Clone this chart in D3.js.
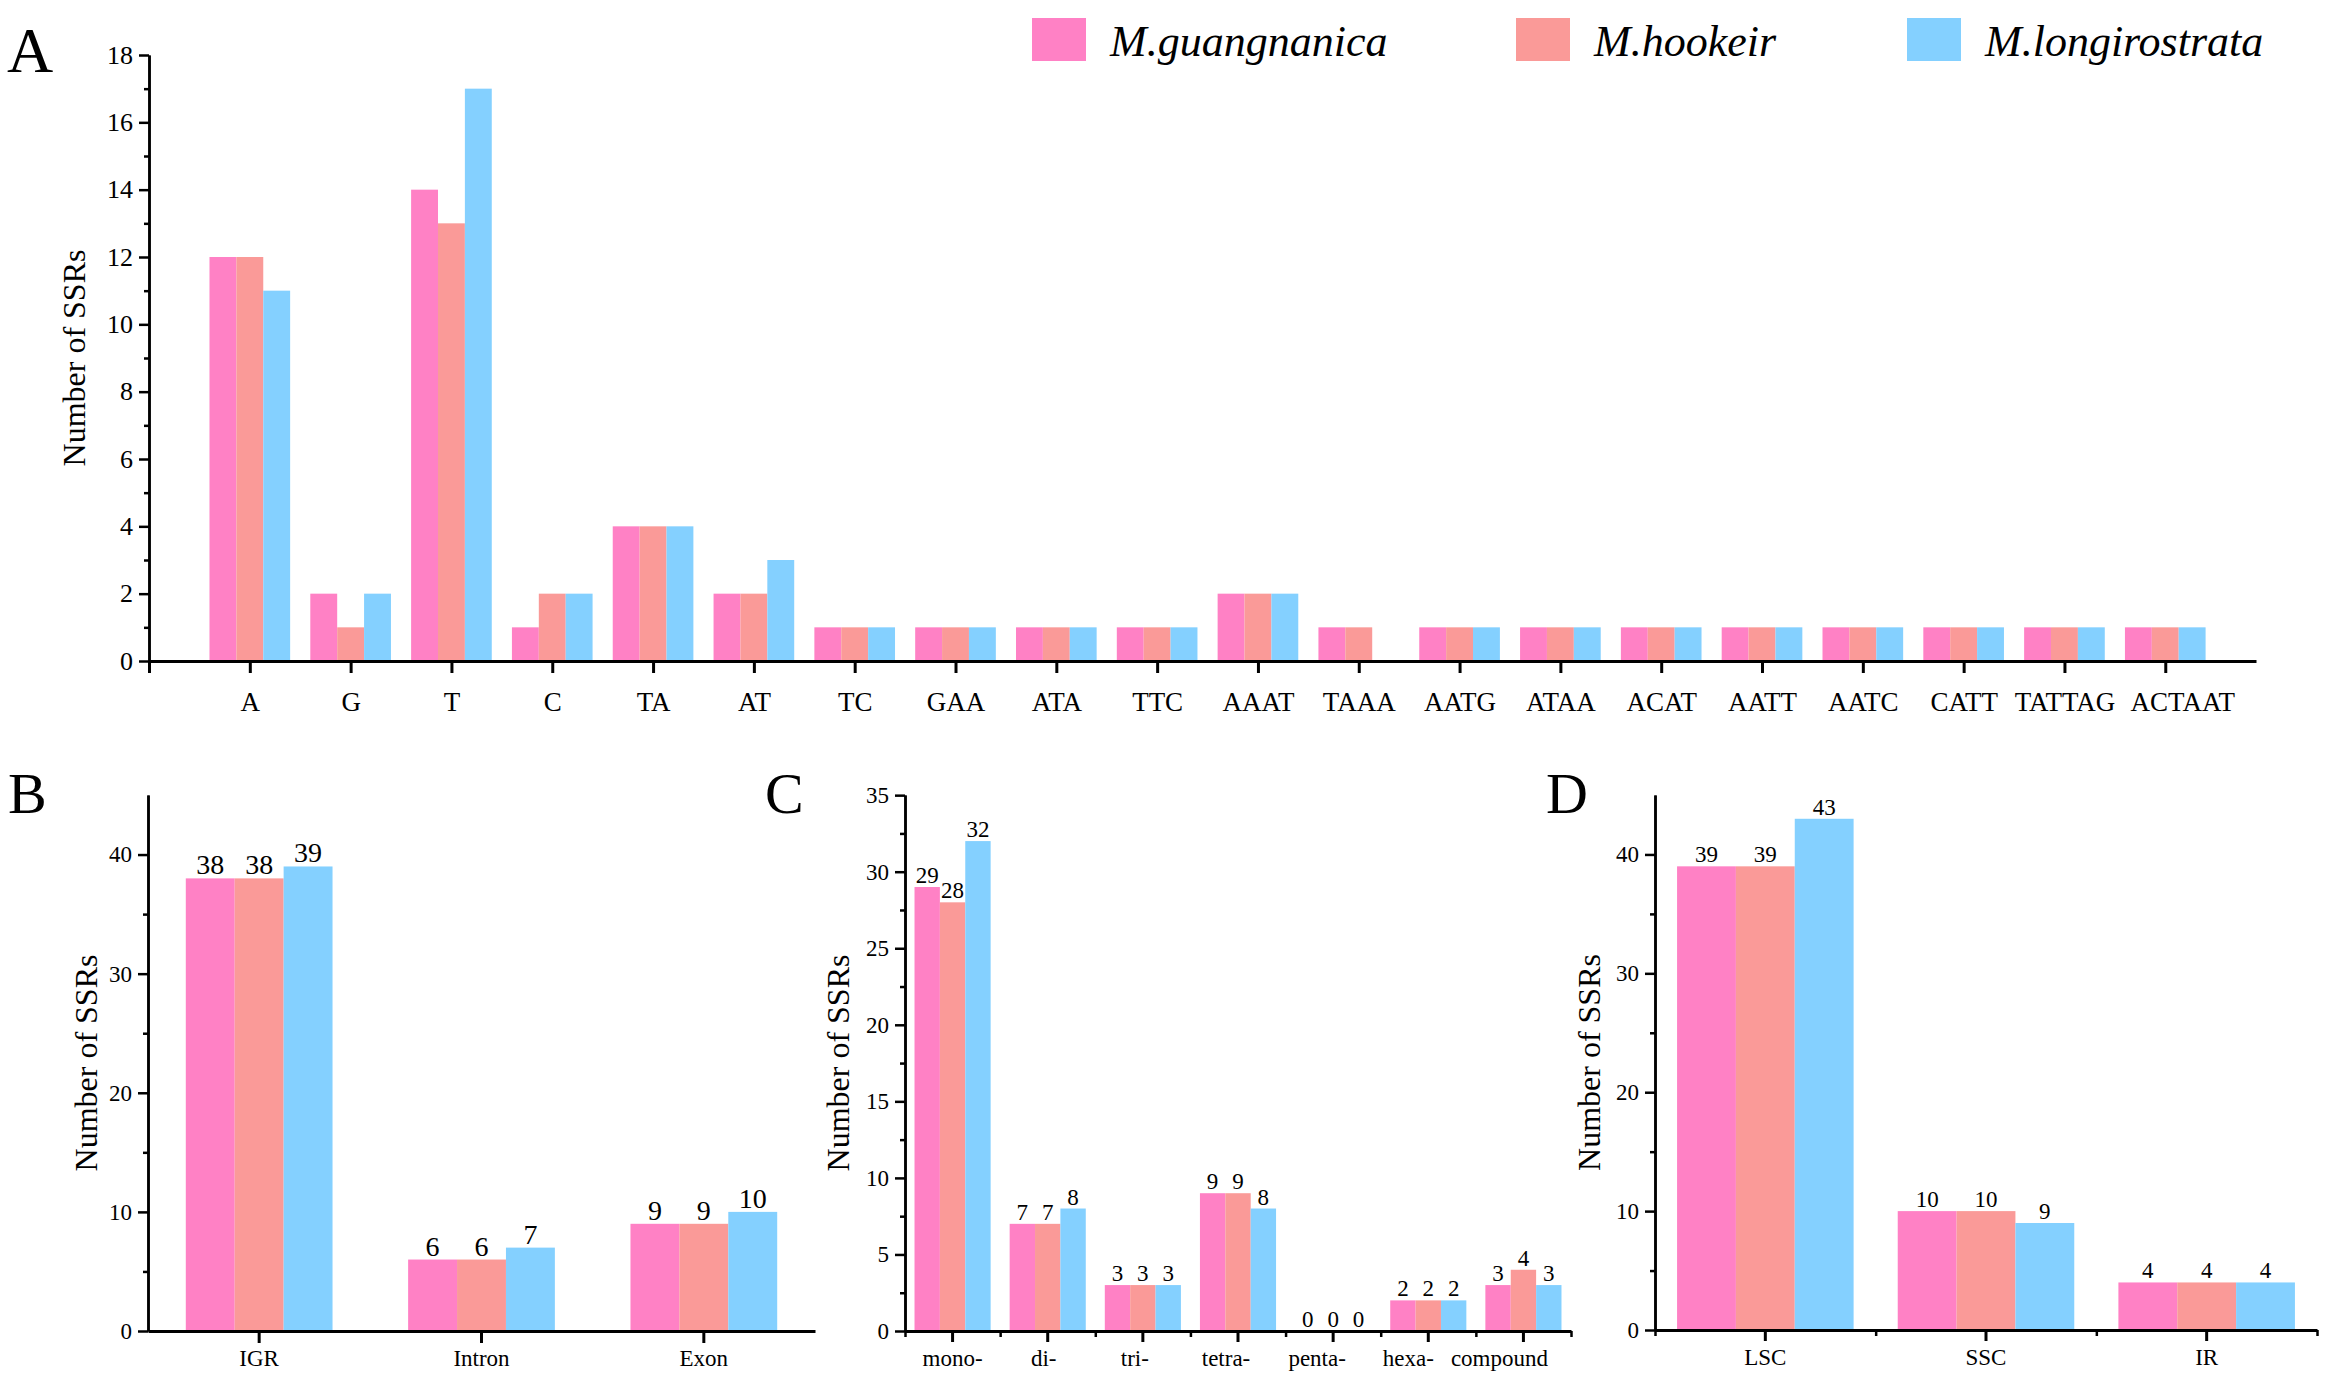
<!DOCTYPE html>
<html>
<head>
<meta charset="utf-8">
<script src="https://cdn.jsdelivr.net/npm/d3@7"></script>
<style>
  body { margin: 0; background: #fff; }
</style>
</head>
<body>
<div id="chart"></div>
<script>
let serif = '"Liberation Serif", "Times New Roman", "DejaVu Serif", serif';

// series
let species = ['M.guangnanica', 'M.hookeir', 'M.longirostrata'];
let colors = ['#FF81C5', '#FA9A98', '#84D0FF'];

// panel A: repeat motif types
let motifs = ['A', 'G', 'T', 'C', 'TA', 'AT', 'TC', 'GAA', 'ATA', 'TTC', 'AAAT', 'TAAA',
              'AATG', 'ATAA', 'ACAT', 'AATT', 'AATC', 'CATT', 'TATTAG', 'ACTAAT'];
let motifGuang = [12, 2, 14, 1, 4, 2, 1, 1, 1, 1, 2, 1, 1, 1, 1, 1, 1, 1, 1, 1];
let motifHook  = [12, 1, 13, 2, 4, 2, 1, 1, 1, 1, 2, 1, 1, 1, 1, 1, 1, 1, 1, 1];
let motifLong  = [11, 2, 17, 2, 4, 3, 1, 1, 1, 1, 2, 0, 1, 1, 1, 1, 1, 1, 1, 1];

// panel B: region
let regions = ['IGR', 'Intron', 'Exon'];
let regionGuang = [38, 6, 9];
let regionHook  = [38, 6, 9];
let regionLong  = [39, 7, 10];

// panel C: repeat length class
let classes = ['mono-', 'di-', 'tri-', 'tetra-', 'penta-', 'hexa-', 'compound'];
let classGuang = [29, 7, 3, 9, 0, 2, 3];
let classHook  = [28, 7, 3, 9, 0, 2, 4];
let classLong  = [32, 8, 3, 8, 0, 2, 3];

// panel D: chloroplast part
let parts = ['LSC', 'SSC', 'IR'];
let partGuang = [39, 10, 4];
let partHook  = [39, 10, 4];
let partLong  = [43, 9, 4];

let svg = d3.select('#chart')
  .append('svg')
  .attr('width', 2344)
  .attr('height', 1393)
  .style('background-color', '#fff')
  .style('font-family', serif);

let toRows = (cats, a, b, c) => cats.map((cat, i) => ({ cat: cat, idx: i, vals: [a[i], b[i], c[i]] }));

let styleAxis = (g, size, width) => {
  g.attr('font-family', null);
  g.select('.domain').attr('stroke-width', width).attr('stroke', '#000');
  g.selectAll('.tick line').attr('stroke-width', width).attr('stroke', '#000');
  g.selectAll('.tick text')
    .style('font-family', serif)
    .style('font-size', size + 'px')
    .attr('fill', '#000');
};

// ---------- Panel A ----------
let xA = d3.scaleLinear().domain([0, 20.9]).range([149, 2256]);
let yA = d3.scaleLinear().domain([0, 18]).range([661, 55]);
let stepA = xA(1) - xA(0);
let subA = d3.scaleBand().domain(d3.range(3)).range([-0.4 * stepA, 0.4 * stepA]);
let rowsA = toRows(motifs, motifGuang, motifHook, motifLong);

let gA = svg.append('g');
let groupsA = gA.selectAll('.grpA')
  .data(rowsA)
  .enter()
  .append('g')
  .attr('transform', d => 'translate(' + xA(d.idx + 1) + ',0)');

groupsA.selectAll('rect')
  .data(d => d.vals)
  .enter()
  .append('rect')
  .attr('x', (v, i) => subA(i))
  .attr('y', v => yA(v))
  .attr('width', subA.bandwidth())
  .attr('height', v => yA(0) - yA(v))
  .style('fill', (v, i) => colors[i]);

// minor y ticks
gA.append('g')
  .attr('transform', 'translate(149,0)')
  .call(d3.axisLeft(yA).tickValues(d3.range(1, 18, 2)).tickSize(5).tickFormat('').tickSizeOuter(0))
  .call(g => styleAxis(g, 26, 2.5));

gA.append('g')
  .attr('transform', 'translate(149,0)')
  .call(d3.axisLeft(yA).tickValues(d3.range(0, 19, 2)).tickSize(10).tickPadding(6).tickSizeOuter(0))
  .call(g => styleAxis(g, 26, 2.5));

gA.append('g')
  .attr('transform', 'translate(0,661)')
  .call(d3.axisBottom(xA).tickValues(d3.range(0, 21)).tickSize(12).tickPadding(19)
          .tickFormat(i => i === 0 ? '' : motifs[i - 1]).tickSizeOuter(0))
  .call(g => styleAxis(g, 27, 3))
  // last label is nudged right in the original to clear its neighbour
  .call(g => g.selectAll('.tick text').filter(i => i === motifs.length).attr('dx', 17));

gA.append('text')
  .attr('transform', 'translate(85,358) rotate(-90)')
  .attr('text-anchor', 'middle')
  .style('font-family', serif)
  .style('font-size', '32px')
  .text('Number of SSRs');

// ---------- Bottom panels ----------
let drawPanel = (opts) => {
  let g = svg.append('g');
  let x = d3.scaleBand().domain(opts.cats).range([opts.x0, opts.x1])
    .paddingInner(opts.pad).paddingOuter(opts.pad / 2);
  let y = d3.scaleLinear().domain([0, opts.ymax]).range([opts.y0, 795]);
  let sub = d3.scaleBand().domain(d3.range(3)).range([0, x.bandwidth()]);
  let rows = toRows(opts.cats, opts.a, opts.b, opts.c);

  let groups = g.selectAll('.grp')
    .data(rows)
    .enter()
    .append('g')
    .attr('transform', d => 'translate(' + x(d.cat) + ',0)');

  groups.selectAll('rect')
    .data(d => d.vals)
    .enter()
    .append('rect')
    .attr('x', (v, i) => sub(i))
    .attr('y', v => y(v))
    .attr('width', sub.bandwidth())
    .attr('height', v => y(0) - y(v))
    .style('fill', (v, i) => colors[i]);

  groups.selectAll('.val')
    .data(d => d.vals)
    .enter()
    .append('text')
    .attr('x', (v, i) => sub(i) + sub.bandwidth() / 2)
    .attr('y', v => y(v) - 4)
    .attr('text-anchor', 'middle')
    .style('font-family', serif)
    .style('font-size', opts.valSize + 'px')
    .text(v => v);

  // y axis: minor then major
  g.append('g')
    .attr('transform', 'translate(' + opts.x0 + ',0)')
    .call(d3.axisLeft(y).tickValues(d3.range(opts.minor, opts.ymax, opts.major)).tickSize(5).tickFormat('').tickSizeOuter(0))
    .call(a => styleAxis(a, 23, 2.5));

  g.append('g')
    .attr('transform', 'translate(' + opts.x0 + ',0)')
    .call(d3.axisLeft(y).tickValues(d3.range(0, opts.ymax, opts.major)).tickSize(10).tickPadding(6).tickSizeOuter(0))
    .call(a => styleAxis(a, 23, 2.5));

  // x axis: boundary ticks (optional) then category ticks
  if (opts.edgeTicks) {
    let edges = opts.cats.map(c => x(c) - x.step() * opts.pad / 2).concat([opts.x1]);
    g.append('g')
      .attr('transform', 'translate(0,' + opts.y0 + ')')
      .call(d3.axisBottom(d3.scaleIdentity().domain([opts.x0, opts.x1])).tickValues(edges).tickSize(6).tickFormat('').tickSizeOuter(0))
      .call(a => styleAxis(a, 23, 2.5))
      .call(a => a.select('.domain').remove());
  }
  g.append('g')
    .attr('transform', 'translate(0,' + opts.y0 + ')')
    .call(d3.axisBottom(x).tickSize(opts.edgeTicks ? 11 : 12).tickPadding(opts.edgeTicks ? 8 : 7).tickSizeOuter(0))
    .call(a => styleAxis(a, 23, 3))
    .call(a => a.selectAll('.tick text').attr('dx', (d, i) => -opts.labelDrift * i));

  g.append('text')
    .attr('transform', 'translate(' + opts.titleX + ',' + ((opts.y0 + 795) / 2) + ') rotate(-90)')
    .attr('text-anchor', 'middle')
    .style('font-family', serif)
    .style('font-size', '32px')
    .text('Number of SSRs');
};

drawPanel({ cats: regions, a: regionGuang, b: regionHook, c: regionLong,
  x0: 148, x1: 815, y0: 1331, ymax: 45, major: 10, minor: 5, pad: 0.34,
  valSize: 28, edgeTicks: false, labelDrift: 0, titleX: 97 });

drawPanel({ cats: classes, a: classGuang, b: classHook, c: classLong,
  x0: 905, x1: 1571, y0: 1331, ymax: 35.01, major: 5, minor: 2.5, pad: 0.2,
  valSize: 23, edgeTicks: true, labelDrift: 4, titleX: 849 });

drawPanel({ cats: parts, a: partGuang, b: partHook, c: partLong,
  x0: 1655, x1: 2317, y0: 1330, ymax: 45, major: 10, minor: 5, pad: 0.2,
  valSize: 23, edgeTicks: true, labelDrift: 0, titleX: 1600 });

// ---------- Legend ----------
let legendX = [1032, 1516, 1907];
let legend = svg.selectAll('.legend-item')
  .data(species)
  .enter()
  .append('g')
  .attr('class', 'legend-item')
  .attr('transform', (d, i) => 'translate(' + legendX[i] + ',0)');

legend.append('rect')
  .attr('x', 0)
  .attr('y', 18)
  .attr('width', 54)
  .attr('height', 43)
  .style('fill', (d, i) => colors[i]);

legend.append('text')
  .attr('x', 78)
  .attr('y', 56)
  .style('font-family', serif)
  .style('font-size', '44px')
  .style('font-style', 'italic')
  .text(d => d);

// ---------- Panel letters ----------
let letters = [['A', 7, 72, 64], ['B', 8, 813, 58], ['C', 765, 813, 58], ['D', 1546, 813, 58]];
svg.selectAll('.letter')
  .data(letters)
  .enter()
  .append('text')
  .attr('x', d => d[1])
  .attr('y', d => d[2])
  .style('font-family', serif)
  .style('font-size', d => d[3] + 'px')
  .text(d => d[0]);
</script>
</body>
</html>
